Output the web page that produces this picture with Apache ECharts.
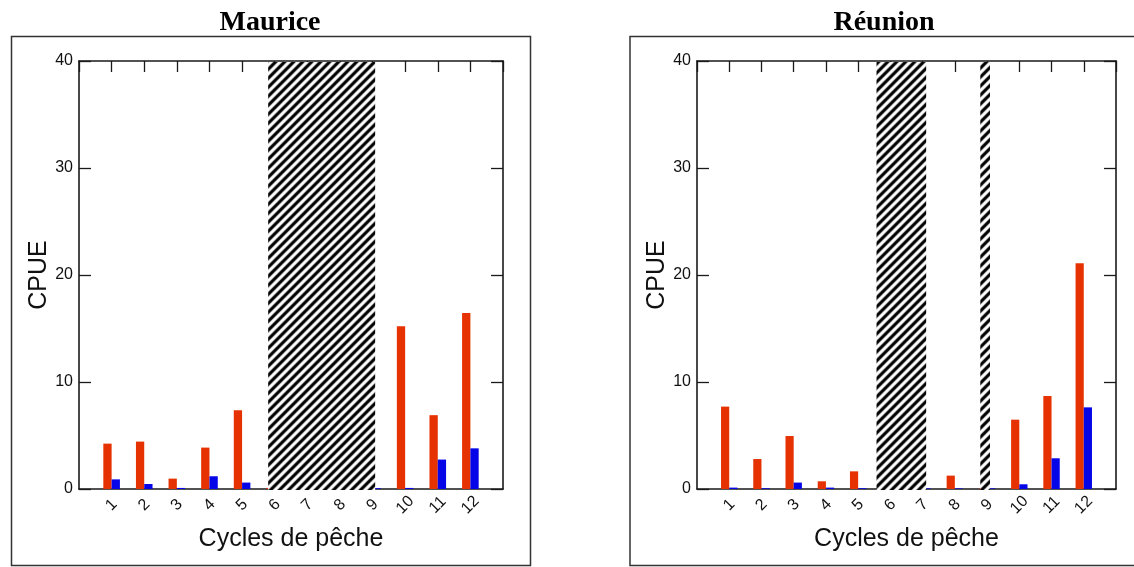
<!DOCTYPE html>
<html>
<head>
<meta charset="utf-8">
<script src="https://cdn.jsdelivr.net/npm/echarts@6/dist/echarts.min.js"></script>
<style>
  html, body { margin: 0; padding: 0; background: #ffffff; }
  #chart { width: 1134px; height: 567px; }
</style>
</head>
<body>
<div id="chart"></div>
<script>
// Cycles de pêche (axe horizontal)
const cycles = [1, 2, 3, 4, 5, 6, 7, 8, 9, 10, 11, 12];

// CPUE par cycle — Maurice
const mauriceRouge = [4.24, 4.43, 0.97, 3.87, 7.36, 0.1, 0, 0, 0, 15.2, 6.9, 16.45];
const mauriceBleu  = [0.9, 0.47, 0.1, 1.19, 0.6, 0, 0, 0, 0.08, 0.1, 2.75, 3.8];

// CPUE par cycle — Réunion
const reunionRouge = [7.7, 2.8, 4.95, 0.72, 1.65, 0.05, 0.03, 1.25, 0.05, 6.48, 8.7, 21.1];
const reunionBleu  = [0.13, 0.07, 0.6, 0.13, 0.07, 0.03, 0.06, 0.05, 0.06, 0.44, 2.87, 7.63];

// Périodes sans pêche (bandes hachurées), bornes en unités de cycle
const mauriceFermeture = [[5.8, 9.08]];
const reunionFermeture = [[5.57, 7.11], [8.79, 9.09]];

// Graduations
const cpueTicks = [0, 10, 20, 30, 40];

const ROUGE = '#E63200';
const BLEU = '#0505E8';
const TRAIT = '#1a1a1a';
const SANS = '"Liberation Sans", Arial, sans-serif';
const SERIF = '"Liberation Serif", "Times New Roman", serif';

// Motif de hachures diagonales noir/blanc, bords adoucis
function motifHachures() {
  const w = 9, h = 9;
  const cv = document.createElement('canvas');
  cv.width = w; cv.height = h;
  const ctx = cv.getContext('2d');
  const img = ctx.createImageData(w, h);
  const k = 1.6, norm = Math.tanh(k);
  for (let y = 0; y < h; y++) {
    for (let x = 0; x < w; x++) {
      const t = Math.cos(2 * Math.PI * ((x + 0.5) / w + (y + 0.5) / h));
      const v = Math.round(255 * (0.5 + 0.5 * Math.tanh(k * t) / norm));
      const i = (y * w + x) * 4;
      img.data[i] = v; img.data[i + 1] = v; img.data[i + 2] = v; img.data[i + 3] = 255;
    }
  }
  ctx.putImageData(img, 0, 0);
  return { image: cv, repeat: 'repeat' };
}
const hachures = motifHachures();

const cpueMin = cpueTicks[0];
const cpueMax = cpueTicks[cpueTicks.length - 1];
const cpueStep = cpueTicks[1] - cpueTicks[0];

function axesX(gi) {
  return [
    {
      gridIndex: gi, type: 'value', position: 'bottom',
      min: 0, max: 13, interval: 1,
      axisLine: { show: true, onZero: false, lineStyle: { color: TRAIT, width: 1.6 } },
      axisTick: { show: false },
      splitLine: { show: false },
      axisLabel: {
        rotate: 45, margin: 16, align: 'center', verticalAlign: 'middle',
        fontFamily: SANS, fontSize: 16, color: '#111',
        formatter: v => (v >= cycles[0] && v <= cycles[cycles.length - 1]) ? String(v) : ''
      },
      name: 'Cycles de pêche', nameLocation: 'middle', nameGap: 38, nameMoveOverlap: false,
      nameTextStyle: { fontFamily: SANS, fontSize: 25, color: '#111' }
    },
    {
      gridIndex: gi, type: 'value', position: 'top',
      min: 0, max: 13, interval: 1,
      axisLine: { show: true, onZero: false, lineStyle: { color: TRAIT, width: 1.6 } },
      axisTick: { show: true, inside: true, length: 11, lineStyle: { color: TRAIT, width: 1.3 } },
      splitLine: { show: false },
      axisLabel: { show: false }
    }
  ];
}

function axesY(gi) {
  return [
    {
      gridIndex: gi, type: 'value', position: 'left',
      min: cpueMin, max: cpueMax, interval: cpueStep,
      axisLine: { show: true, onZero: false, lineStyle: { color: TRAIT, width: 1.6 } },
      axisTick: { show: true, inside: true, length: 12, lineStyle: { color: TRAIT, width: 1.3 } },
      splitLine: { show: false },
      axisLabel: { margin: 6, fontFamily: SANS, fontSize: 16, color: '#111' },
      name: 'CPUE', nameLocation: 'middle', nameGap: 27, nameMoveOverlap: false,
      nameTextStyle: { fontFamily: SANS, fontSize: 25, color: '#111' }
    },
    {
      gridIndex: gi, type: 'value', position: 'right',
      min: cpueMin, max: cpueMax, interval: cpueStep,
      axisLine: { show: true, onZero: false, lineStyle: { color: TRAIT, width: 1.6 } },
      axisTick: { show: true, inside: true, length: 12, lineStyle: { color: TRAIT, width: 1.3 } },
      splitLine: { show: false },
      axisLabel: { show: false }
    }
  ];
}

function barres(gi, valeurs, couleur, largeur) {
  return {
    type: 'bar', xAxisIndex: gi * 2, yAxisIndex: gi * 2,
    data: cycles.map((c, i) => [c, valeurs[i]]),
    barWidth: largeur, barGap: '0%',
    itemStyle: { color: couleur },
    z: 2, silent: true
  };
}

function bandes(gi, plages) {
  return {
    type: 'custom', xAxisIndex: gi * 2, yAxisIndex: gi * 2,
    data: plages,
    encode: { x: [0, 1] },
    clip: false, z: 5, silent: true,
    renderItem: function (params, api) {
      const haut = api.coord([api.value(0), cpueMax]);
      const bas = api.coord([api.value(1), cpueMin]);
      return {
        type: 'rect',
        shape: { x: haut[0], y: haut[1] + 1, width: bas[0] - haut[0], height: bas[1] - haut[1] },
        style: { fill: hachures }
      };
    }
  };
}

const chart = echarts.init(document.getElementById('chart'), null, { renderer: 'canvas' });
chart.setOption({
  animation: false,
  backgroundColor: '#ffffff',
  grid: [
    { left: 79, top: 61, width: 424, height: 428 },
    { left: 697, top: 61, width: 419, height: 428 }
  ],
  xAxis: axesX(0).concat(axesX(1)),
  yAxis: axesY(0).concat(axesY(1)),
  series: [
    barres(0, mauriceRouge, ROUGE, 8.3),
    barres(0, mauriceBleu, BLEU, 8.3),
    bandes(0, mauriceFermeture),
    barres(1, reunionRouge, ROUGE, 8.2),
    barres(1, reunionBleu, BLEU, 8.2),
    bandes(1, reunionFermeture)
  ],
  graphic: [
    {
      type: 'rect', silent: true,
      shape: { x: 11.5, y: 36.5, width: 519, height: 529 },
      style: { fill: 'none', stroke: '#333', lineWidth: 1.5 }
    },
    {
      type: 'rect', silent: true,
      shape: { x: 630, y: 36.5, width: 520, height: 529 },
      style: { fill: 'none', stroke: '#333', lineWidth: 1.5 }
    },
    {
      type: 'text', x: 270, y: 9, silent: true,
      style: { text: 'Maurice', fontFamily: SERIF, fontWeight: 'bold', fontSize: 28, fill: '#000', align: 'center', verticalAlign: 'top' }
    },
    {
      type: 'text', x: 884, y: 9, silent: true,
      style: { text: 'Réunion', fontFamily: SERIF, fontWeight: 'bold', fontSize: 28, fill: '#000', align: 'center', verticalAlign: 'top' }
    }
  ]
});
</script>
</body>
</html>
